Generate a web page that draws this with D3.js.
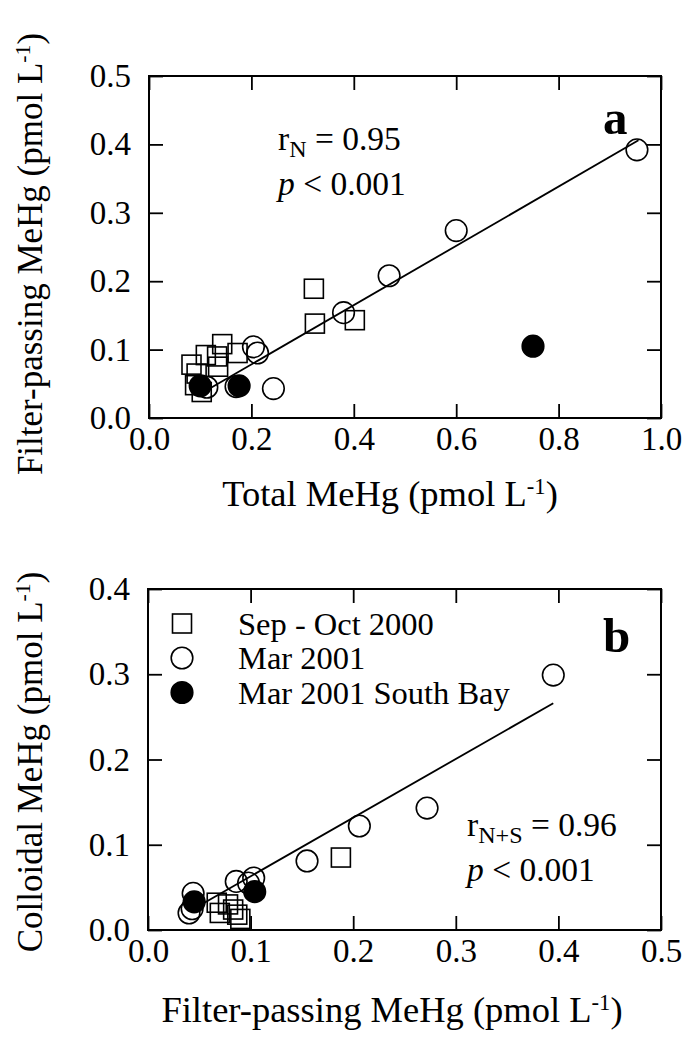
<!DOCTYPE html>
<html><head><meta charset="utf-8">
<script src="https://cdn.jsdelivr.net/npm/d3@7/dist/d3.min.js"></script>
<style>
body{margin:0;background:#fff}
text{font-family:"Liberation Serif","Times New Roman",serif;fill:#000}
</style>
</head><body><svg id="c" width="684" height="1047"></svg>
<script>
// ---------- Panel a data: [Total MeHg, Filter-passing MeHg] (pmol/L)
const aSepOct2000 = [[0.143,0.108],[0.111,0.092],[0.133,0.090],[0.083,0.078],[0.173,0.095],[0.093,0.065],[0.103,0.038],[0.135,0.075],[0.090,0.048],[0.322,0.189],[0.324,0.138],[0.402,0.143]];
const aMar2001 = [[0.204,0.104],[0.212,0.095],[0.243,0.043],[0.113,0.045],[0.170,0.046],[0.380,0.154],[0.469,0.208],[0.600,0.274],[0.953,0.392]];
const aMar2001SouthBay = [[0.100,0.047],[0.176,0.047],[0.750,0.105]];
const aFitLine = [[0.10,0.035],[0.956,0.406]];
const aXTicks = [0,0.2,0.4,0.6,0.8,1.0];
const aYTicks = [0,0.1,0.2,0.3,0.4,0.5];

// ---------- Panel b data: [Filter-passing MeHg, Colloidal MeHg] (pmol/L)
const bSepOct2000 = [[0.188,0.085],[0.067,0.032],[0.070,0.020],[0.078,0.030],[0.083,0.024],[0.087,0.018],[0.090,0.013]];
const bMar2001 = [[0.395,0.299],[0.272,0.143],[0.206,0.122],[0.155,0.081],[0.086,0.057],[0.103,0.061],[0.098,0.055],[0.044,0.043],[0.040,0.020],[0.043,0.025]];
const bMar2001SouthBay = [[0.045,0.033],[0.104,0.045]];
const bFitLine = [[0.055,0.032],[0.395,0.266]];
const bXTicks = [0,0.1,0.2,0.3,0.4,0.5];
const bYTicks = [0,0.1,0.2,0.3,0.4];

const legendLabels = ["Sep - Oct 2000","Mar 2001","Mar 2001 South Bay"];

// ---------- drawing
const svg = d3.select("#c");
const fmt = d3.format(".1f");
const TICK_FS = 33, TITLE_FS = 36.5, YTITLE_FS = 35, STAT_FS = 33.5, LEG_FS = 32.5;

function addUnitTitle(sel, base){
  sel.append("tspan").text(base + " (pmol L");
  sel.append("tspan").attr("font-size","0.62em").attr("dy","-0.55em").text("-1");
  sel.append("tspan").attr("dy","0.34em").text(")");
}

function drawPanel(cfg){
  const x = d3.scaleLinear().domain(cfg.xDomain).range([cfg.left, cfg.right]);
  const y = d3.scaleLinear().domain(cfg.yDomain).range([cfg.bottom, cfg.top]);
  const g = svg.append("g");

  const axes = [
    {ax: d3.axisBottom(x).tickValues(cfg.xTicks).tickFormat(fmt).tickPadding(9), tr:`translate(0,${cfg.bottom})`},
    {ax: d3.axisTop(x).tickValues(cfg.xTicks).tickFormat(""), tr:`translate(0,${cfg.top})`},
    {ax: d3.axisLeft(y).tickValues(cfg.yTicks).tickFormat(fmt).tickPadding(18), tr:`translate(${cfg.left},0)`},
    {ax: d3.axisRight(y).tickValues(cfg.yTicks).tickFormat(""), tr:`translate(${cfg.right},0)`}
  ];
  axes.forEach(a=>{
    const ag = g.append("g").attr("transform",a.tr)
      .call(a.ax.tickSizeInner(-14).tickSizeOuter(0));
    ag.select(".domain").remove();
    ag.selectAll(".tick line").attr("stroke","#000").attr("stroke-width",1.8);
    ag.selectAll(".tick text").attr("font-size",TICK_FS)
      .attr("font-family",'"Liberation Serif",serif').attr("fill","#000");
  });

  g.append("rect").attr("x",cfg.left).attr("y",cfg.top)
    .attr("width",cfg.right-cfg.left).attr("height",cfg.bottom-cfg.top)
    .attr("fill","none").attr("stroke","#000").attr("stroke-width",2);

  // fit line
  g.append("path").datum(cfg.fit)
    .attr("d", d3.line().x(d=>x(d[0])).y(d=>y(d[1])))
    .attr("fill","none").attr("stroke","#000").attr("stroke-width",1.8);

  const mk = g.append("g").attr("stroke","#000").attr("stroke-width",1.6);
  mk.selectAll("rect.sq").data(cfg.sq).join("rect").attr("class","sq")
    .attr("x",d=>x(d[0])-9.5).attr("y",d=>y(d[1])-9.5)
    .attr("width",19).attr("height",19).attr("fill","none");
  mk.selectAll("circle.oc").data(cfg.oc).join("circle").attr("class","oc")
    .attr("cx",d=>x(d[0])).attr("cy",d=>y(d[1])).attr("r",10.8).attr("fill","none");
  mk.selectAll("circle.fc").data(cfg.fc).join("circle").attr("class","fc")
    .attr("cx",d=>x(d[0])).attr("cy",d=>y(d[1])).attr("r",10.8).attr("fill","#000");

  // axis titles
  const xt = svg.append("text").attr("x",cfg.xTitleX).attr("y",cfg.xTitleY)
    .attr("text-anchor","middle").attr("font-size",TITLE_FS);
  addUnitTitle(xt, cfg.xTitle);
  const yt = svg.append("text")
    .attr("transform",`translate(${cfg.yTitleX},${cfg.yTitleY}) rotate(-90)`)
    .attr("text-anchor","middle").attr("font-size",YTITLE_FS);
  addUnitTitle(yt, cfg.yTitle);

  // panel letter
  svg.append("text").attr("x",cfg.letterX).attr("y",cfg.letterY)
    .attr("font-size",49).attr("font-weight","bold").text(cfg.letter);

  // statistics
  const s1 = svg.append("text").attr("x",cfg.statX).attr("y",cfg.statY).attr("font-size",STAT_FS);
  s1.append("tspan").text("r");
  s1.append("tspan").attr("font-size","0.72em").attr("dy","0.3em").text(cfg.rSub);
  s1.append("tspan").attr("dy","-0.22em").text(" = " + cfg.rVal);
  const s2 = svg.append("text").attr("x",cfg.statX).attr("y",cfg.statY+45).attr("font-size",STAT_FS);
  s2.append("tspan").attr("font-style","italic").text("p");
  s2.append("tspan").text(" < 0.001");
  return {x,y};
}

drawPanel({
  left:149,right:661,top:76,bottom:418,
  xDomain:[0,1],yDomain:[0,0.5],xTicks:aXTicks,yTicks:aYTicks,
  sq:aSepOct2000,oc:aMar2001,fc:aMar2001SouthBay,fit:aFitLine,
  xTitle:"Total MeHg",xTitleX:390,xTitleY:506,
  yTitle:"Filter-passing MeHg",yTitleX:42,yTitleY:254,
  letter:"a",letterX:603,letterY:134,
  rSub:"N",rVal:"0.95",statX:278,statY:150
});

drawPanel({
  left:148,right:661,top:589,bottom:930,
  xDomain:[0,0.5],yDomain:[0,0.4],xTicks:bXTicks,yTicks:bYTicks,
  sq:bSepOct2000,oc:bMar2001,fc:bMar2001SouthBay,fit:bFitLine,
  xTitle:"Filter-passing MeHg",xTitleX:392,xTitleY:1022,
  yTitle:"Colloidal MeHg",yTitleX:42,yTitleY:762,
  letter:"b",letterX:603,letterY:652,
  rSub:"N+S",rVal:"0.96",statX:467,statY:836
});

// legend (panel b)
const lg = svg.append("g");
const lrows = lg.selectAll("g").data(legendLabels).join("g")
  .attr("transform",(d,i)=>`translate(182,${623.5+i*34.5})`);
lrows.each(function(d,i){
  const r = d3.select(this);
  if(i===0) r.append("rect").attr("x",-9.5).attr("y",-9.5).attr("width",19).attr("height",19)
      .attr("fill","none").attr("stroke","#000").attr("stroke-width",1.6);
  else r.append("circle").attr("r",10.8).attr("fill",i===2?"#000":"none")
      .attr("stroke","#000").attr("stroke-width",1.6);
  r.append("text").attr("x",56).attr("y",11).attr("font-size",LEG_FS).text(d);
});
</script></body></html>
